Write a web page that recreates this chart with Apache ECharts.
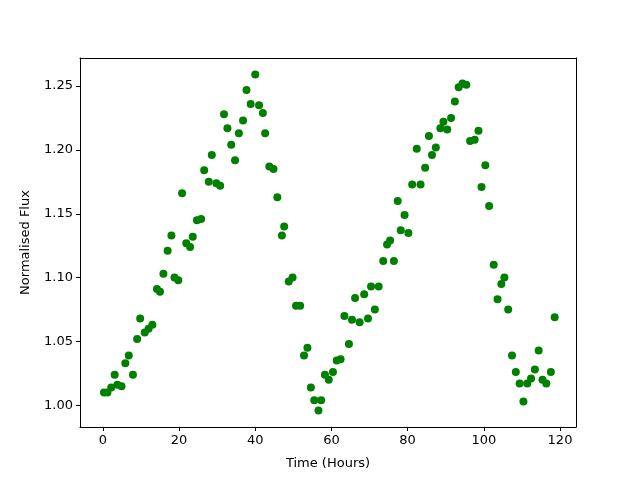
<!DOCTYPE html>
<html>
<head>
<meta charset="utf-8">
<script src="https://cdn.jsdelivr.net/npm/echarts@6/dist/echarts.min.js"></script>
<style>
    html, body { margin: 0; padding: 0; background: #fff; }
    #chart { width: 640px; height: 480px; }
</style>
</head>
<body>
<div id="chart"></div>
<script>
// Light curve data
const hours = [
    0.3, 1.2, 2.2, 3.1, 3.8, 4.9, 5.9, 6.8, 7.9, 9.0,
    9.8, 11.0, 12.0, 13.0, 14.2, 15.0, 15.9, 17.0, 18.0, 18.8,
    19.8, 20.8, 21.9, 22.9, 23.6, 24.7, 25.8, 26.6, 27.8, 28.6,
    29.8, 30.8, 31.8, 32.7, 33.7, 34.7, 35.7, 36.8, 37.7, 38.8,
    40.0, 41.0, 42.0, 42.6, 43.7, 44.8, 45.8, 47.0, 47.6, 48.8,
    49.8, 50.7, 51.8, 52.8, 53.7, 54.6, 55.5, 56.6, 57.3, 58.3,
    59.3, 60.4, 61.4, 62.4, 63.4, 64.6, 65.4, 66.2, 67.4, 68.6,
    69.6, 70.4, 71.4, 72.4, 73.6, 74.6, 75.4, 76.4, 77.4, 78.2,
    79.2, 80.2, 81.2, 82.4, 83.4, 84.6, 85.6, 86.4, 87.4, 88.6,
    89.4, 90.4, 91.4, 92.4, 93.4, 94.4, 95.4, 96.4, 97.6, 98.6,
    99.4, 100.4, 101.4, 102.6, 103.6, 104.6, 105.4, 106.4, 107.4, 108.4,
    109.4, 110.4, 111.4, 112.4, 113.4, 114.4, 115.4, 116.4, 117.6, 118.6
];
const flux = [
    1.010, 1.010, 1.014, 1.024, 1.016, 1.015, 1.033, 1.039, 1.024, 1.052,
    1.068, 1.057, 1.060, 1.063, 1.091, 1.089, 1.103, 1.121, 1.133, 1.100,
    1.098, 1.166, 1.127, 1.124, 1.132, 1.145, 1.146, 1.184, 1.175, 1.196,
    1.174, 1.172, 1.228, 1.217, 1.204, 1.192, 1.213, 1.223, 1.247, 1.236,
    1.259, 1.235, 1.229, 1.213, 1.187, 1.185, 1.163, 1.133, 1.140, 1.097,
    1.100, 1.078, 1.078, 1.039, 1.045, 1.014, 1.004, 0.996, 1.004, 1.024,
    1.020, 1.026, 1.035, 1.036, 1.070, 1.048, 1.067, 1.084, 1.065, 1.087,
    1.068, 1.093, 1.075, 1.093, 1.113, 1.126, 1.129, 1.113, 1.160, 1.137,
    1.149, 1.135, 1.173, 1.201, 1.173, 1.186, 1.211, 1.196, 1.202, 1.217,
    1.222, 1.216, 1.225, 1.238, 1.249, 1.252, 1.251, 1.207, 1.208, 1.215,
    1.171, 1.188, 1.156, 1.110, 1.083, 1.095, 1.100, 1.075, 1.039, 1.026,
    1.017, 1.003, 1.017, 1.021, 1.028, 1.043, 1.020, 1.017, 1.026, 1.069
];
const xTicks = [0, 20, 40, 60, 80, 100, 120];
const yTicks = [1.00, 1.05, 1.10, 1.15, 1.20, 1.25];

const points = hours.map((h, i) => [h, flux[i]]);

const chart = echarts.init(document.getElementById('chart'));
const font = 'DejaVu Sans';
const xRange = { min: -6, max: 124.2 };
const yRange = { min: 0.983, max: 1.272 };

// plain frame axes for the top and right edges of the box
const frameLine = { show: true, onZero: false, lineStyle: { color: '#000', width: 1 } };

chart.setOption({
    animation: false,
    backgroundColor: '#ffffff',
    grid: { left: 80, right: 64, top: 58, bottom: 53 },
    xAxis: [{
        type: 'value',
        ...xRange,
        position: 'bottom',
        name: 'Time (Hours)',
        nameLocation: 'middle',
        nameGap: 30,
        nameTextStyle: { color: '#000', fontSize: 13, fontFamily: font },
        axisLine: frameLine,
        axisTick: { show: true, customValues: xTicks, length: 4, lineStyle: { color: '#000' } },
        axisLabel: { customValues: xTicks, color: '#000', fontSize: 13, fontFamily: font, margin: 7 },
        splitLine: { show: false }
    }, {
        type: 'value',
        ...xRange,
        position: 'top',
        axisLine: frameLine,
        axisTick: { show: false },
        axisLabel: { show: false },
        splitLine: { show: false }
    }],
    yAxis: [{
        type: 'value',
        ...yRange,
        position: 'left',
        name: 'Normalised Flux',
        nameLocation: 'middle',
        nameGap: 48,
        nameTextStyle: { color: '#000', fontSize: 13, fontFamily: font },
        axisLine: frameLine,
        axisTick: { show: true, customValues: yTicks, length: 4, lineStyle: { color: '#000' } },
        axisLabel: {
            customValues: yTicks, color: '#000', fontSize: 13, fontFamily: font, margin: 7,
            formatter: v => v.toFixed(2)
        },
        splitLine: { show: false }
    }, {
        type: 'value',
        ...yRange,
        position: 'right',
        axisLine: frameLine,
        axisTick: { show: false },
        axisLabel: { show: false },
        splitLine: { show: false }
    }],
    series: [{
        type: 'scatter',
        data: points,
        symbol: 'circle',
        symbolSize: 8,
        itemStyle: { color: '#008000', opacity: 1 }
    }]
});
</script>
</body>
</html>
